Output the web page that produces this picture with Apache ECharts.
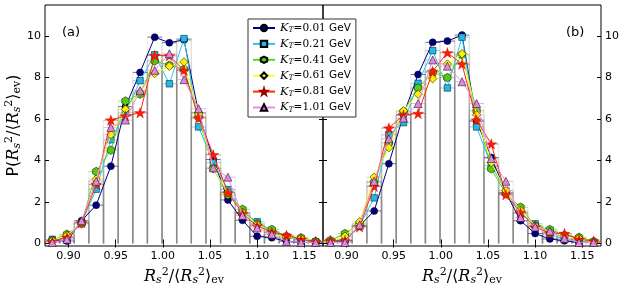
<!DOCTYPE html>
<html><head><meta charset="utf-8">
<script src="https://cdn.jsdelivr.net/npm/echarts@6/dist/echarts.min.js"></script>
<style>html,body{margin:0;padding:0;background:#fff}#c{width:623px;height:291px}</style>
</head><body><div id="c"></div>
<script>
// ---- data ----
const binCenters = [0.8828,0.8983,0.9138,0.9293,0.9449,0.9604,0.9759,0.9914,1.0070,1.0225,1.0380,1.0536,1.0691,1.0846,1.1001,1.1157,1.1312,1.1467,1.1622];
const binWidth = 0.01553;
const xTicks = [0.90,0.95,1.00,1.05,1.10,1.15];
const yTicks = [0,2,4,6,8,10];
const ktLabels = ['0.01','0.21','0.41','0.61','0.81','1.01'];

const a_kt001 = [0.15,0.12,1.1,1.85,3.73,6.6,8.25,9.95,9.68,9.82,6.3,4.05,2.1,1.12,0.35,0.28,0.1,0.05,0.05];
const a_kt021 = [0.2,0.25,1.0,2.62,5.0,6.3,7.85,9.1,7.7,9.88,5.62,3.9,2.6,1.5,1.05,0.55,0.3,0.15,0.08];
const a_kt041 = [0.15,0.45,0.95,3.47,4.5,6.87,7.2,8.8,8.6,8.4,6.1,3.62,2.35,1.65,0.95,0.68,0.35,0.28,0.1];
const a_kt061 = [0.15,0.4,1.0,3.1,5.25,6.47,7.3,8.2,8.55,8.75,6.25,3.62,2.45,1.5,0.9,0.45,0.3,0.25,0.1];
const a_kt081 = [0.1,0.3,1.0,2.85,5.95,6.15,6.3,9.07,9.05,8.35,6.05,4.28,2.45,1.45,0.85,0.55,0.4,0.2,0.1];
const a_kt101 = [0.05,0.2,1.1,3.0,5.6,5.95,7.38,8.35,9.15,7.9,6.5,3.65,3.2,1.35,0.75,0.45,0.1,0.05,0.05];

const b_kt001 = [0.12,0.12,0.85,1.57,3.85,6.2,8.15,9.7,9.76,10.05,5.9,4.15,2.45,1.1,0.48,0.22,0.13,0.05,0.05];
const b_kt021 = [0.1,0.15,0.85,2.2,5.24,5.83,7.72,9.3,7.5,9.95,5.62,3.75,2.55,1.45,0.95,0.45,0.2,0.1,0.05];
const b_kt041 = [0.15,0.48,0.95,2.95,4.85,6.35,7.5,8.25,8.0,9.1,6.4,3.6,2.4,1.75,0.85,0.68,0.4,0.3,0.1];
const b_kt061 = [0.1,0.35,1.05,3.2,4.62,6.4,7.2,7.95,8.65,9.15,6.2,3.9,2.55,1.6,0.85,0.55,0.35,0.25,0.05];
const b_kt081 = [0.15,0.15,0.8,2.75,5.57,6.2,6.27,8.3,9.2,8.65,5.95,4.8,2.35,1.5,0.8,0.5,0.48,0.2,0.12];
const b_kt101 = [0.05,0.05,0.9,3.0,5.05,6.05,6.75,8.85,8.55,7.8,6.75,4.1,3.0,1.25,0.8,0.6,0.25,0.05,0.05];

// ---- styles ----
const panelA = [a_kt001,a_kt021,a_kt041,a_kt061,a_kt081,a_kt101];
const panelB = [b_kt001,b_kt021,b_kt041,b_kt061,b_kt081,b_kt101];
const lineColors = ['#000080','#22c8f0','#55d822','#ffff22','#ff2a00','#ee88ee'];
const markColors = ['#000080','#22b8e8','#55c811','#ffee00','#ff1a00','#dd88dd'];
const borderColors = ['#000','#000','#000','#000','#990000','#000'];
const histColors = ['#000060','#22b8e8','#55c811','#e8d800','#ee1100','#dd77dd'];
const hexPath = 'path://M5,0L9.33,2.5L9.33,7.5L5,10L0.67,7.5L0.67,2.5Z';
const starPath = 'path://M5,0L6.12,3.45L9.76,3.45L6.82,5.59L7.94,9.05L5,6.91L2.06,9.05L3.18,5.59L0.24,3.45L3.88,3.45Z';
const symbols = ['circle','rect',hexPath,'diamond',starPath,'triangle'];
const symSizes = [7,6.5,8.5,8.5,11,8];
const symBorders = [0.5,0.5,0.5,0.5,0.3,0.5];

const X_MIN = 0.875, X_MAX = 1.17, Y_MIN = -0.12, Y_MAX = 11.5;
const tickFont = {fontFamily:'DejaVu Sans', fontSize:11, color:'#000'};

const richName = {
  q:{fontFamily:'DejaVu Sans',fontSize:16,color:'#000'},
  r:{fontFamily:'DejaVu Serif',fontStyle:'italic',fontSize:16,color:'#000'},
  s:{fontFamily:'DejaVu Serif',fontStyle:'italic',fontSize:11,color:'#000',padding:[8,0,0,0]},
  p:{fontFamily:'DejaVu Serif',fontSize:11,color:'#000',padding:[0,0,8,0]},
  n:{fontFamily:'DejaVu Serif',fontSize:16,color:'#000'},
  e:{fontFamily:'DejaVu Serif',fontSize:11,color:'#000',padding:[8,0,0,0]}
};

function xAx(grid, pos, labels, name){
  return {type:'value', gridIndex:grid, position:pos, min:X_MIN, max:X_MAX,
    axisLine:{show:false}, splitLine:{show:false},
    axisTick:{show:true, inside:true, length:4, lineStyle:{color:'#000',width:1}, customValues:xTicks},
    axisLabel:{show:labels, customValues:xTicks, margin:5, formatter:v=>v.toFixed(2), ...tickFont},
    name: name ? '{r|R}{s|s}{p|2}{n|/⟨}{r|R}{s|s}{p|2}{n|⟩}{e|ev}' : '',
    nameLocation:'middle', nameGap:21,
    nameTextStyle:{rich:richName}
  };
}
function yAx(grid, pos, labels, name){
  return {type:'value', gridIndex:grid, position:pos, min:Y_MIN, max:Y_MAX,
    axisLine:{show:false}, splitLine:{show:false},
    axisTick:{show:true, inside:true, length:4, lineStyle:{color:'#000',width:1}, customValues:yTicks},
    axisLabel:{show:labels, customValues:yTicks, margin:4, ...tickFont},
    name: name ? '{q|P(}{r|R}{s|s}{p|2}{n|/⟨}{r|R}{s|s}{p|2}{n|⟩}{e|ev}{q|)}' : '',
    nameLocation:'middle', nameGap:17, nameRotate:90,
    nameTextStyle:{rich:richName}
  };
}

const series = [];
[panelA, panelB].forEach((panel, p) => {
  const xi = p*2, yi = p*2;
  panel.forEach((vals, k) => {
    const col = histColors[k];
    series.push({
      type:'custom', name:'hist'+p+k, xAxisIndex:xi, yAxisIndex:yi, z:1, silent:true,
      data: binCenters.map((c,i)=>[c, vals[i]]),
      encode:{x:0,y:1},
      renderItem:(params, api)=>{
        const x = api.value(0), v = api.value(1);
        const tl = api.coord([x - binWidth/2, v]);
        const br = api.coord([x + binWidth/2, 0]);
        return {type:'group', children:[
          {type:'line', shape:{x1:tl[0],y1:tl[1],x2:tl[0],y2:br[1]}, style:{stroke:'#505050',lineWidth:1.5,opacity:0.085}},
          {type:'line', shape:{x1:br[0],y1:tl[1],x2:br[0],y2:br[1]}, style:{stroke:'#505050',lineWidth:1.5,opacity:0.085}},
          {type:'line', shape:{x1:tl[0],y1:tl[1],x2:br[0],y2:tl[1]}, style:{stroke:col,lineWidth:1,opacity:0.55}}
        ]};
      }
    });
  });
  panel.forEach((vals, k) => {
    series.push({
      type:'line', name:'KT'+ktLabels[k], xAxisIndex:xi, yAxisIndex:yi, z:3+k,
      data: binCenters.map((c,i)=>[c, vals[i]]),
      symbol:symbols[k], symbolSize:symSizes[k], symbolKeepAspect:true, showSymbol:true,
      lineStyle:{color:lineColors[k], width:1},
      itemStyle:{color:markColors[k], borderColor:borderColors[k], borderWidth:symBorders[k]},
      emphasis:{disabled:true}, animation:false
    });
  });
});

const option = {
  animation:false,
  backgroundColor:'#fff',
  title:[
    {text:'(a)', left:57, top:21, textStyle:{fontFamily:'DejaVu Sans',fontSize:13,fontWeight:'normal',color:'#000'}},
    {text:'(b)', left:561, top:21, textStyle:{fontFamily:'DejaVu Sans',fontSize:13,fontWeight:'normal',color:'#000'}}
  ],
  grid:[
    {left:45, top:5, width:278, height:244, show:true, borderColor:'#000', borderWidth:1, backgroundColor:'transparent'},
    {left:323, top:5, width:278, height:244, show:true, borderColor:'#000', borderWidth:1, backgroundColor:'transparent'}
  ],
  xAxis:[xAx(0,'bottom',true,true), xAx(0,'top',false,false), xAx(1,'bottom',true,true), xAx(1,'top',false,false)],
  yAxis:[yAx(0,'left',true,true), yAx(0,'right',false,false), yAx(1,'right',true,false), yAx(1,'left',false,false)],
  legend:{
    data: ktLabels.map(l=>'KT'+l),
    orient:'vertical', left:248, top:19, z:20,
    backgroundColor:'#fff', borderColor:'#333', borderWidth:1, borderRadius:0,
    padding:[3,5,3,4], itemWidth:22, itemHeight:8, itemGap:3.4,
    formatter:(name)=>'{k|K}{t|T}{n|=' + name.slice(2) + '} {g|GeV}',
    textStyle:{rich:{
      k:{fontFamily:'DejaVu Serif',fontStyle:'italic',fontSize:11.5,color:'#000'},
      t:{fontFamily:'DejaVu Serif',fontStyle:'italic',fontSize:7.5,color:'#000',padding:[5,0,0,0]},
      n:{fontFamily:'DejaVu Serif',fontSize:10.5,color:'#000'},
      g:{fontFamily:'DejaVu Sans',fontSize:10.5,color:'#000'}
    }},
    selectedMode:false
  },
  series
};
const chart = echarts.init(document.getElementById('c'), null, {renderer:'canvas'});
chart.setOption(option);
</script></body></html>
